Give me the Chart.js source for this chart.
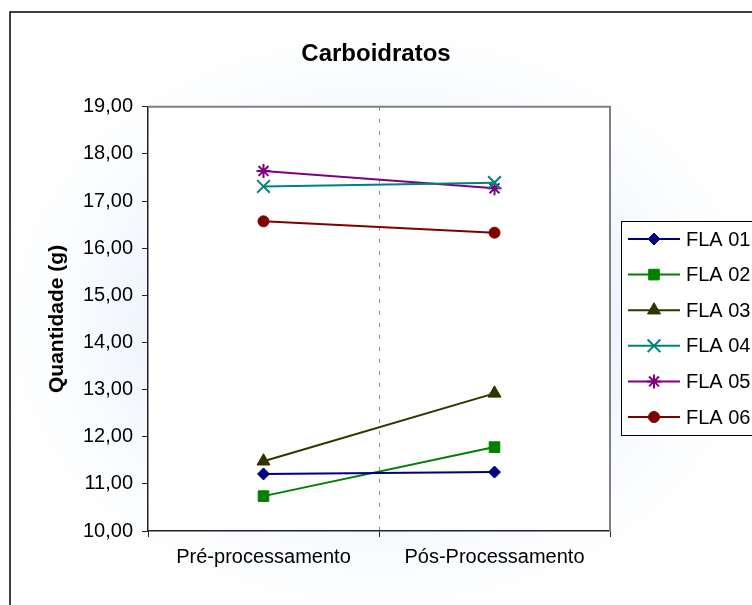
<!DOCTYPE html>
<html>
<head>
<meta charset="utf-8">
<title>Carboidratos</title>
<script src="https://cdn.jsdelivr.net/npm/chart.js@4.4.1/dist/chart.umd.min.js"></script>
<style>
  html, body { margin: 0; padding: 0; background: #fff; }
  canvas { display: block; }
</style>
</head>
<body>
<canvas id="chart" width="752" height="605"></canvas>
<script>
// data
const categories = ["Pré-processamento", "Pós-Processamento"];
const seriesNames = ["FLA 01", "FLA 02", "FLA 03", "FLA 04", "FLA 05", "FLA 06"];
const fla01 = [11.21, 11.25];
const fla02 = [10.74, 11.78];
const fla03 = [11.48, 12.92];
const fla04 = [17.31, 17.39];
const fla05 = [17.64, 17.27];
const fla06 = [16.57, 16.33];
const yMin = 10;
const yMax = 19;
const yStep = 1;

// styles
const colors = ["#000080", "#008000", "#333300", "#008080", "#800080", "#800000"];
const pointStyles = ["rectRot", "rect", "triangle", "crossRot", "star", "circle"];
const pointSizes = [6, 7.5, 7.5, 9, 7, 5.5];
const pointBorders = [1, 1, 1, 2, 2, 1];

Chart.defaults.font.family = "'Liberation Sans', Arial, sans-serif";
Chart.defaults.color = "#000";

const allSeries = [fla01, fla02, fla03, fla04, fla05, fla06];
const datasets = allSeries.map((values, i) => ({
  label: seriesNames[i],
  data: values,
  borderColor: colors[i],
  backgroundColor: colors[i],
  borderWidth: 2,
  pointStyle: pointStyles[i],
  pointRadius: pointSizes[i],
  pointBorderWidth: pointBorders[i],
  tension: 0,
}));

const excelLook = {
  id: "excelLook",
  beforeDraw(chart) {
    const { ctx, width, height, chartArea } = chart;
    ctx.save();
    ctx.fillStyle = "#fff";
    ctx.fillRect(0, 0, width, height);

    // soft blue glow behind the plot
    ctx.translate(380, 320);
    ctx.scale(1.3, 1);
    const g = ctx.createRadialGradient(0, 0, 100, 0, 0, 330);
    g.addColorStop(0, "#dbe7fa");
    g.addColorStop(1, "rgba(255,255,255,0)");
    ctx.fillStyle = g;
    ctx.fillRect(-400, -400, 800, 800);
    ctx.setTransform(1, 0, 0, 1, 0, 0);

    ctx.fillStyle = "#fff";
    ctx.fillRect(chartArea.left, chartArea.top, chartArea.width, chartArea.height);

    ctx.strokeStyle = "#000";
    ctx.lineWidth = 1.5;
    ctx.strokeRect(10, 12, 900, 900);
    ctx.restore();
  },
  beforeDatasetsDraw(chart) {
    const { ctx, chartArea } = chart;
    ctx.save();
    ctx.strokeStyle = "#808080";
    ctx.lineWidth = 2;
    ctx.beginPath();
    ctx.moveTo(chartArea.left, chartArea.top);
    ctx.lineTo(chartArea.right, chartArea.top);
    ctx.lineTo(chartArea.right, chartArea.bottom);
    ctx.stroke();
    ctx.restore();
  },
  afterDraw(chart) {
    // legend drawn like Excel: line with marker through it
    const ctx = chart.ctx;
    ctx.save();
    ctx.fillStyle = "#fff";
    ctx.fillRect(621, 221, 140, 214);
    ctx.strokeStyle = "#000";
    ctx.lineWidth = 1;
    ctx.strokeRect(621.5, 221.5, 140, 214);

    chart.data.datasets.forEach((ds, i) => {
      const y = 239 + i * 35.6;
      ctx.strokeStyle = ds.borderColor;
      ctx.lineWidth = 2;
      ctx.beginPath();
      ctx.moveTo(628, y);
      ctx.lineTo(680, y);
      ctx.stroke();

      ctx.fillStyle = ds.backgroundColor;
      ctx.lineWidth = ds.pointBorderWidth;
      Chart.helpers.drawPoint(ctx, {
        pointStyle: ds.pointStyle,
        radius: ds.pointRadius,
        rotation: 0,
        borderWidth: ds.pointBorderWidth,
      }, 654, y);

      ctx.fillStyle = "#000";
      ctx.font = "20px 'Liberation Sans', Arial, sans-serif";
      ctx.textBaseline = "middle";
      ctx.fillText(ds.label, 686, y + 1);
    });
    ctx.restore();
  },
};

new Chart(document.getElementById("chart"), {
  type: "line",
  data: { labels: categories, datasets: datasets },
  options: {
    responsive: false,
    animation: false,
    layout: { padding: 0 },
    plugins: {
      legend: { display: false },
      tooltip: { enabled: false },
      title: {
        display: true,
        text: "Carboidratos",
        color: "#000",
        font: { size: 24, weight: "bold" },
        padding: { top: 40, bottom: 38 },
      },
    },
    scales: {
      x: {
        offset: true,
        afterFit(scale) { scale.height = 74; },
        ticks: { color: "#000", font: { size: 20 }, padding: 8 },
        grid: {
          offset: true,
          color: (c) => (c.index === 1 ? "#8c8c8c" : "rgba(0,0,0,0)"),
          lineWidth: 1,
          tickColor: "#222",
          tickLength: 6,
          tickBorderDash: [],
        },
        border: { color: "#222", width: 1.5, dash: [4, 8] },
      },
      y: {
        min: yMin,
        max: yMax,
        afterFit(scale) { scale.width = 148; },
        ticks: {
          stepSize: yStep,
          color: "#000",
          font: { size: 20 },
          padding: 9,
          callback: (v) => v.toFixed(2).replace(".", ","),
        },
        grid: { drawOnChartArea: false, tickLength: 6, tickColor: "#222" },
        border: { color: "#222", width: 1.5 },
        title: {
          display: true,
          text: "Quantidade (g)",
          color: "#000",
          font: { size: 21, weight: "bold" },
          padding: { top: 45, bottom: 0 },
        },
      },
      // empty right-hand axis that reserves the room the legend sits in
      yRight: {
        position: "right",
        min: yMin,
        max: yMax,
        afterFit(scale) { scale.width = 142; },
        ticks: { display: false },
        grid: { display: false },
        border: { display: false },
      },
    },
  },
  plugins: [excelLook],
});
</script>
</body>
</html>
